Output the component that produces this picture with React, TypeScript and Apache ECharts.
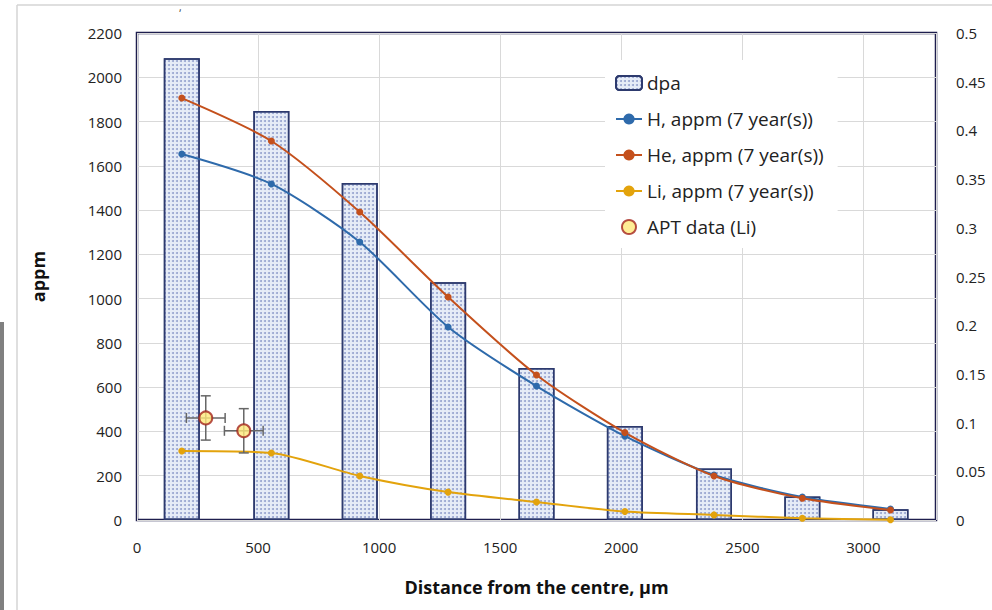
import React, { useEffect, useRef } from "react";
import * as echarts from "echarts";

// Distance from the centre (µm) for model points / bars
const distances = [185, 555, 920, 1285, 1650, 2015, 2383, 2748, 3112];
// dpa (right axis)
const dpaValues = [0.474, 0.42, 0.346, 0.244, 0.156, 0.0965, 0.053, 0.024, 0.011];
// H, He, Li appm (7 years)
const hValues = [1653, 1518, 1256, 872, 605, 379, 203, 104, 50];
const heValues = [1906, 1712, 1391, 1007, 655, 395, 199, 98, 45];
const liValues = [312, 303, 199, 126, 81, 38, 23, 8, 1];
// APT data (Li)
const aptX = [284, 441];
const aptY = [461, 403];
const aptXErr = [80, 80];
const aptYErr = [100, 100];

const FONT = "'Open Sans', 'Noto Sans', sans-serif";

export default function App() {
  const ref = useRef<HTMLDivElement>(null);
  useEffect(() => {
    if (!ref.current) return;
    const chart = echarts.init(ref.current, null, { renderer: "svg" });
    const pair = (xs: number[], ys: number[]) => xs.map((x, i) => [x, ys[i]]);
    const plain = (v: number) => String(parseFloat(v.toFixed(2)));
    const option: any = {
      animation: false,
      backgroundColor: "#ffffff",
      textStyle: { fontFamily: FONT },
      grid: {
        left: 137,
        top: 33,
        right: 56,
        bottom: 90,
        show: true,
        borderColor: "#1e1e4e",
        borderWidth: 2.5,
        backgroundColor: "transparent",
      },
      legend: {
        orient: "vertical",
        left: 605,
        top: 60,
        padding: [12, 14, 10, 10],
        backgroundColor: "#ffffff",
        itemWidth: 26,
        itemHeight: 14,
        itemGap: 14,
        textStyle: { fontFamily: FONT, fontSize: 19, color: "#222", lineHeight: 22 },
        data: [
          "dpa",
          "H, appm (7 year(s))",
          "He, appm (7 year(s))",
          "Li, appm (7 year(s))",
          "APT data (Li)",
        ],
      },
      xAxis: {
        type: "value",
        min: 0,
        max: 3300,
        interval: 500,
        name: "Distance from the centre, µm",
        nameLocation: "middle",
        nameGap: 58,
        nameTextStyle: { fontFamily: FONT, fontSize: 18, fontWeight: "bold", color: "#111" },
        axisLine: { show: false },
        axisTick: { show: false },
        axisLabel: { showMaxLabel: false, margin: 19, fontSize: 15, color: "#222", fontFamily: FONT, formatter: plain },
        splitLine: { show: true, lineStyle: { color: "#d9d9d9", width: 1 } },
      },
      yAxis: [
        {
          type: "value",
          min: 0,
          max: 2200,
          interval: 200,
          name: "appm",
          nameLocation: "middle",
          nameGap: 90,
          nameRotate: 90,
          nameTextStyle: { fontFamily: FONT, fontSize: 18, fontWeight: "bold", color: "#111" },
          axisLine: { show: false },
          axisTick: { show: false },
          axisLabel: { margin: 15, fontSize: 15, color: "#222", fontFamily: FONT, formatter: plain },
          splitLine: { show: true, lineStyle: { color: "#d9d9d9", width: 1 } },
        },
        {
          type: "value",
          min: 0,
          max: 0.5,
          interval: 0.05,
          position: "right",
          axisLine: { show: false },
          axisTick: { show: false },
          axisLabel: {
            margin: 20,
            fontSize: 15,
            color: "#222",
            fontFamily: FONT,
            formatter: plain,
          },
          splitLine: { show: false },
        },
      ],
      series: [
        {
          name: "dpa",
          type: "bar",
          yAxisIndex: 1,
          barWidth: 36,
          data: pair(distances, dpaValues),
          itemStyle: {
            color: "#e6ecf7",
            borderColor: "#2d3a6e",
            borderWidth: 1.5,
            decal: {
              symbol: "circle",
              symbolSize: 1,
              color: "rgba(70,90,165,0.5)",
              dashArrayX: [2, 2],
              dashArrayY: [2, 2],
            },
          },
          z: 1,
        },
        {
          name: "H, appm (7 year(s))",
          type: "line",
          smooth: 0.25,
          data: pair(distances, hValues),
          symbol: "circle",
          symbolSize: 7,
          lineStyle: { color: "#2e6aab", width: 2 },
          itemStyle: { color: "#2e6aab" },
          z: 3,
        },
        {
          name: "He, appm (7 year(s))",
          type: "line",
          smooth: 0.25,
          data: pair(distances, heValues),
          symbol: "circle",
          symbolSize: 7,
          lineStyle: { color: "#c4501c", width: 2 },
          itemStyle: { color: "#c4501c" },
          z: 3,
        },
        {
          name: "Li, appm (7 year(s))",
          type: "line",
          smooth: 0.25,
          data: pair(distances, liValues),
          symbol: "circle",
          symbolSize: 7,
          lineStyle: { color: "#e3a30c", width: 2 },
          itemStyle: { color: "#e3a30c" },
          z: 3,
        },
        {
          name: "APT error",
          type: "custom",
          data: aptX.map((x, i) => [x, aptY[i], aptXErr[i], aptYErr[i]]),
          renderItem: (params: any, api: any) => {
            const x = api.value(0);
            const y = api.value(1);
            const ex = api.value(2);
            const ey = api.value(3);
            const l = api.coord([x - ex, y]);
            const r = api.coord([x + ex, y]);
            const t = api.coord([x, y + ey]);
            const b = api.coord([x, y - ey]);
            const style = { stroke: "#666666", lineWidth: 1.5 };
            const cap = 5;
            return {
              type: "group",
              children: [
                { type: "line", shape: { x1: l[0], y1: l[1], x2: r[0], y2: r[1] }, style },
                { type: "line", shape: { x1: l[0], y1: l[1] - cap, x2: l[0], y2: l[1] + cap }, style },
                { type: "line", shape: { x1: r[0], y1: r[1] - cap, x2: r[0], y2: r[1] + cap }, style },
                { type: "line", shape: { x1: t[0], y1: t[1], x2: b[0], y2: b[1] }, style },
                { type: "line", shape: { x1: t[0] - cap, y1: t[1], x2: t[0] + cap, y2: t[1] }, style },
                { type: "line", shape: { x1: b[0] - cap, y1: b[1], x2: b[0] + cap, y2: b[1] }, style },
              ],
            };
          },
          z: 4,
        },
        {
          name: "APT data (Li)",
          type: "scatter",
          data: pair(aptX, aptY),
          symbol: "circle",
          symbolSize: 13,
          itemStyle: { color: "#ffe97a", borderColor: "#a4241c", borderWidth: 2 },
          z: 5,
        },
      ],
      graphic: [
        { type: "rect", left: 0, top: 322, shape: { width: 4, height: 288 }, style: { fill: "#808080" } },
        { type: "line", shape: { x1: 17, y1: 5, x2: 992, y2: 5 }, style: { stroke: "#d4d4d4", lineWidth: 1.5 } },
        { type: "line", shape: { x1: 17, y1: 5, x2: 17, y2: 610 }, style: { stroke: "#d4d4d4", lineWidth: 1.5 } },
        { type: "text", left: 179, top: 2, style: { text: ",", fontSize: 10, fill: "#333", fontFamily: FONT } },
      ],
    };
    chart.setOption(option);
    return () => chart.dispose();
  }, []);
  return (
    <div
      ref={ref}
      style={{ position: "absolute", left: 0, top: 0, width: 992, height: 610, background: "#fff" }}
    />
  );
}
